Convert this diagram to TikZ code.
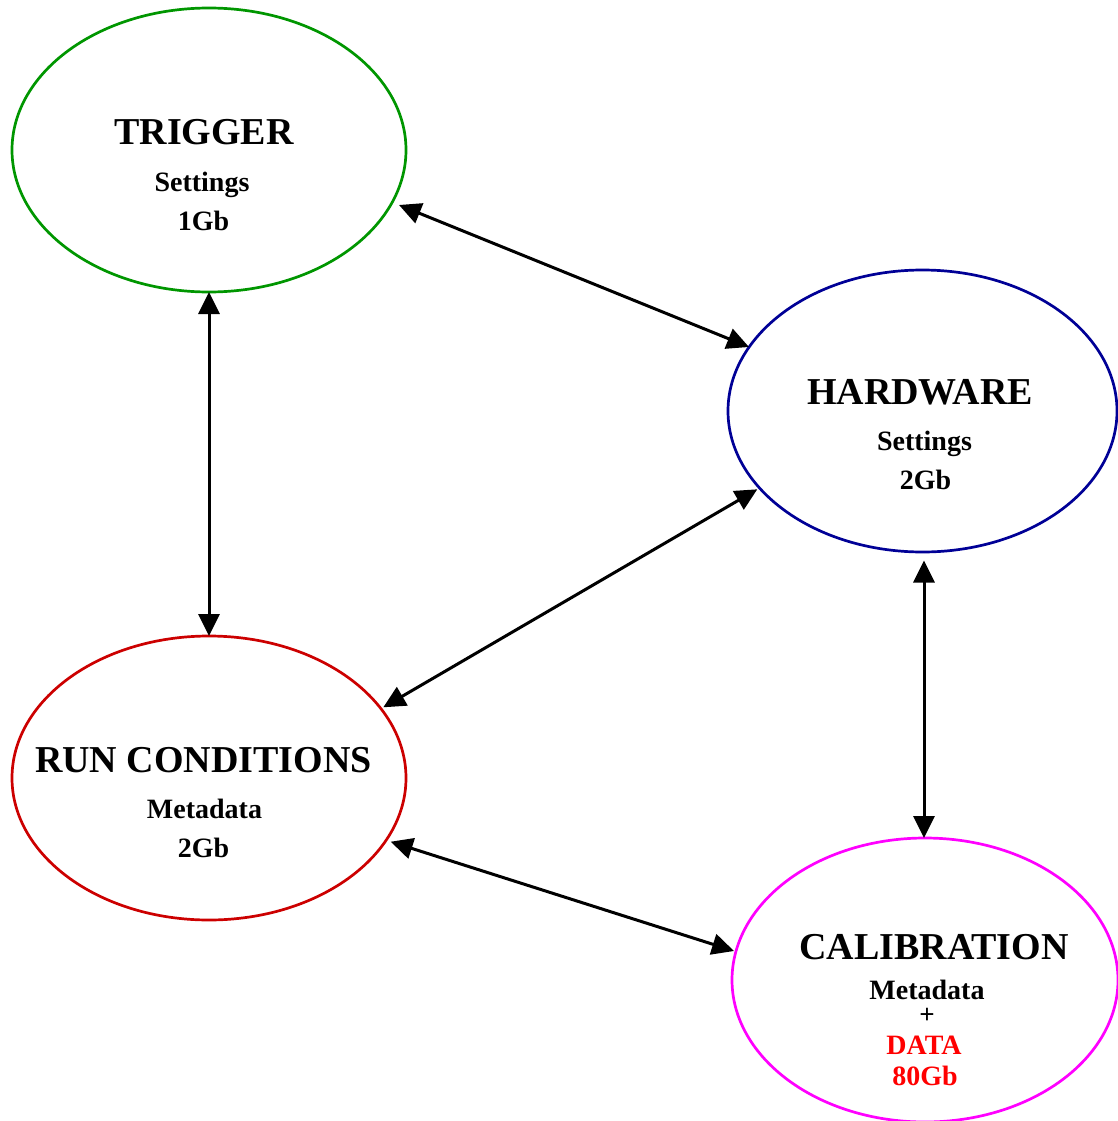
\documentclass[tikz,border=0pt]{standalone}
\usepackage{fontspec}
\setmainfont{Liberation Serif}
\usetikzlibrary{shapes.geometric,arrows.meta,calc}
\definecolor{cgreen}{RGB}{0,150,0}
\definecolor{cnavy}{RGB}{0,0,150}
\definecolor{cred}{RGB}{204,0,0}
\definecolor{cmag}{RGB}{255,0,255}
\definecolor{tred}{RGB}{255,0,0}
\begin{document}
\begin{tikzpicture}[x=1pt,y=-1pt,
  ell/.style={ellipse,draw,line width=2.7pt,inner sep=0pt,outer sep=0pt},
  big/.style={inner sep=0pt,anchor=base,font=\bfseries\fontsize{38}{40}\selectfont},
  small/.style={inner sep=0pt,anchor=base,font=\bfseries\fontsize{28}{30}\selectfont},
  conn/.style={line width=3pt,{Triangle[length=22pt,width=21pt]}-{Triangle[length=22pt,width=21pt]}}]
\useasboundingbox (0,0) rectangle (1118,1121);
% ellipses
\node[ell,draw=cgreen,minimum width=394pt,minimum height=284pt] (trig) at (209,150) {};
\node[ell,draw=cnavy,minimum width=389pt,minimum height=282pt] (hw) at (922.5,411) {};
\node[ell,draw=cred,minimum width=394pt,minimum height=284pt] (run) at (209,778) {};
\node[ell,draw=cmag,minimum width=386pt,minimum height=284pt] (cal) at (925,980) {};
% texts
\node[big] (t1) at (204,145) {TRIGGER};
\node[small] (t2) at (202,191) {Settings};
\node[small] (t3) at (203.5,230) {1Gb};
\node[big] (h1) at (920,404) {HARDWARE};
\node[small] (h2) at (924.5,450) {Settings};
\node[small] (h3) at (925.5,489) {2Gb};
\node[big] (r1) at (203.5,772) {RUN CONDITIONS};
\node[small] (r2) at (204.5,818) {Metadata};
\node[small] (r3) at (203.5,857) {2Gb};
\node[big] (c1) at (934,959) {CALIBRATION};
\node[small] (c2) at (927,999) {Metadata};
\node[inner sep=0pt,font=\bfseries\fontsize{27}{28}\selectfont] (c3) at (927,1016) {+};
\node[small,text=tred] (c4) at (924,1054) {DATA};
\node[small,text=tred] (c5) at (925,1085) {80Gb};
% connectors
\draw[conn] ($(trig)+(190,55)$) -- ($(hw)+(-173.5,-64)$);
\draw[conn] (trig.south) -- (run.north);
\draw[conn] ($(hw)+(-165.2,78.3)$) -- ($(run)+(174.3,-70.7)$);
\draw[conn] ($(hw)+(1.5,149.5)$) -- ($(cal.north)+(-1,0)$);
\draw[conn] ($(run)+(181.7,63.7)$) -- ($(cal)+(-191,-29)$);
\end{tikzpicture}
\end{document}
